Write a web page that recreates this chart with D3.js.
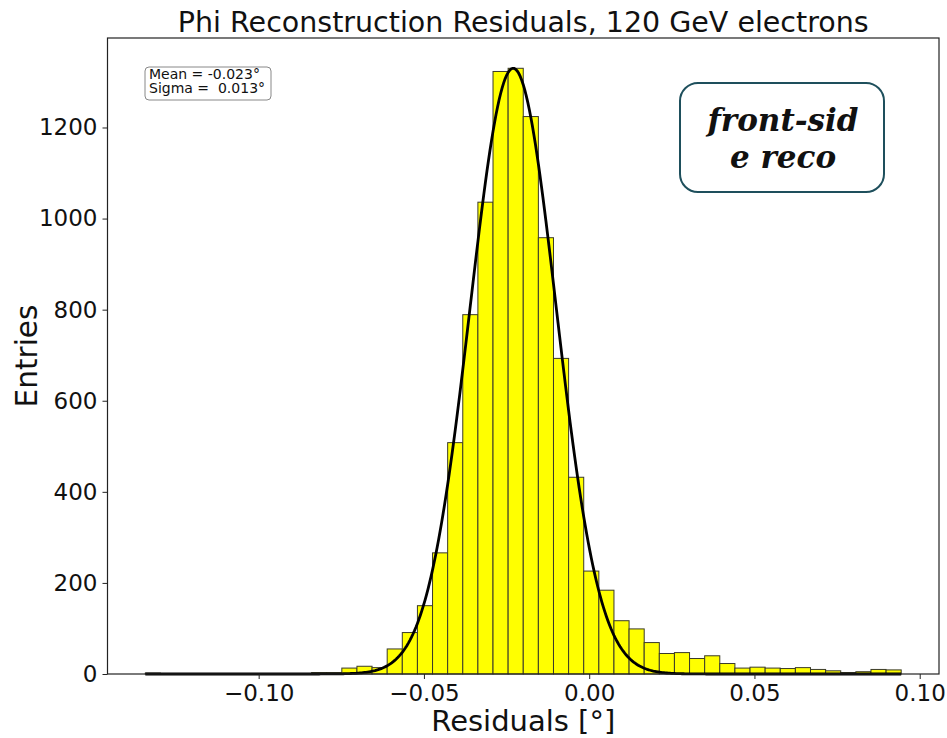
<!DOCTYPE html>
<html>
<head>
<meta charset="utf-8">
<script src="https://cdn.jsdelivr.net/npm/d3@7"></script>
<style>
  html, body { margin: 0; padding: 0; background: #fff; }
  svg { display: block; }
  text { font-family: "DejaVu Sans", sans-serif; }
</style>
</head>
<body>
<svg id="chart" width="947" height="738"></svg>
<script>
// Histogram of phi residuals (degrees): 50 equal-width bins
const binStart = -0.1343;
const binWidth = 0.004574;
const counts = [
  2, 1, 1, 0, 0, 1, 0, 1, 0, 1,
  1, 3, 3, 13, 17, 14, 55, 91, 150, 266,
  508, 789, 1036, 1323, 1330, 1224, 958, 693, 432, 226,
  184, 117, 99, 69, 45, 47, 34, 40, 23, 13,
  15, 13, 12, 14, 10, 7, 3, 5, 10, 9
];

// Gaussian fit parameters
const fitMean = -0.023;
const fitSigma = 0.013;
const fitPeak = 1330;

const xTicks = [-0.10, -0.05, 0.00, 0.05, 0.10];
const yTicks = [0, 200, 400, 600, 800, 1000, 1200];

const titleText = "Phi Reconstruction Residuals, 120 GeV electrons";
const xLabel = "Residuals [°]";
const yLabel = "Entries";
const statsLines = ["Mean = -0.023°", "Sigma =  0.013°"];
const noteLines = ["front-sid", "e reco"];

const svg = d3.select("#chart");
const plot = { left: 107.5, right: 939, top: 38, bottom: 674 };

const binEnd = binStart + binWidth * counts.length;
const pad = 0.05 * (binEnd - binStart);
const x = d3.scaleLinear().domain([binStart - pad, binEnd + pad]).range([plot.left, plot.right]);
const y = d3.scaleLinear().domain([0, d3.max(counts) * 1.05]).range([plot.bottom, plot.top]);

const bins = counts.map((c, i) => ({ x0: binStart + i * binWidth, x1: binStart + (i + 1) * binWidth, c }));

// bars
svg.append("g").selectAll("rect").data(bins.filter(b => b.c > 0)).join("rect")
  .attr("x", d => x(d.x0))
  .attr("width", d => x(d.x1) - x(d.x0))
  .attr("y", d => y(d.c))
  .attr("height", d => y(0) - y(d.c))
  .attr("fill", "#ffff00")
  .attr("stroke", "#3a3a2a")
  .attr("stroke-width", 1);

// fitted gaussian curve
const curveX = d3.range(0, 501).map(i => binStart + (binEnd - binStart) * i / 500);
const line = d3.line().x(d => x(d)).y(d => y(fitPeak * Math.exp(-0.5 * ((d - fitMean) / fitSigma) ** 2)));
svg.append("path").datum(curveX)
  .attr("d", line)
  .attr("fill", "none")
  .attr("stroke", "#000")
  .attr("stroke-width", 2.8);

// axes
const fmtX = v => (v < 0 ? "\u2212" : "") + Math.abs(v).toFixed(2);
const xAxis = d3.axisBottom(x).tickValues(xTicks).tickFormat(fmtX).tickSize(5).tickPadding(6);
const yAxis = d3.axisLeft(y).tickValues(yTicks).tickFormat(d3.format("d")).tickSize(5).tickPadding(5);

const gx = svg.append("g").attr("transform", `translate(0,${plot.bottom})`).call(xAxis);
const gy = svg.append("g").attr("transform", `translate(${plot.left},0)`).call(yAxis);
[gx, gy].forEach(g => {
  g.select(".domain").remove();
  g.selectAll(".tick line").attr("stroke", "#222").attr("stroke-width", 1);
  g.selectAll(".tick text").attr("fill", "#111").style("font-size", "23px").style("font-family", "DejaVu Sans");
});

// frame
svg.append("rect")
  .attr("x", plot.left).attr("y", plot.top)
  .attr("width", plot.right - plot.left).attr("height", plot.bottom - plot.top)
  .attr("fill", "none").attr("stroke", "#222").attr("stroke-width", 1.2);

// title and axis labels
svg.append("text").attr("x", (plot.left + plot.right) / 2).attr("y", 32)
  .attr("text-anchor", "middle").style("font-size", "28.5px").attr("fill", "#111").text(titleText);
svg.append("text").attr("x", (plot.left + plot.right) / 2).attr("y", 731)
  .attr("text-anchor", "middle").style("font-size", "29px").attr("fill", "#111").text(xLabel);
svg.append("text").attr("transform", `translate(37,${(plot.top + plot.bottom) / 2}) rotate(-90)`)
  .attr("text-anchor", "middle").style("font-size", "29.5px").attr("fill", "#111").text(yLabel);

// stats box
const sb = svg.append("g");
sb.append("rect").attr("x", 145).attr("y", 67).attr("width", 126).attr("height", 33)
  .attr("rx", 4).attr("fill", "#fff").attr("stroke", "#888").attr("stroke-width", 1);
sb.selectAll("text").data(statsLines).join("text")
  .attr("x", 149).attr("y", (d, i) => 79 + i * 14)
  .style("font-size", "14px").style("white-space", "pre").attr("xml:space", "preserve")
  .attr("fill", "#111").text(d => d);

// annotation box
const nb = svg.append("g");
nb.append("rect").attr("x", 680).attr("y", 83).attr("width", 204).attr("height", 109)
  .attr("rx", 18).attr("fill", "#fff").attr("stroke", "#1e4f5c").attr("stroke-width", 2);
nb.selectAll("text").data(noteLines).join("text")
  .attr("x", 783).attr("y", (d, i) => 131 + i * 37)
  .attr("text-anchor", "middle")
  .style("font-family", "'DejaVu Serif', 'Liberation Serif', serif")
  .style("font-weight", "bold").style("font-style", "italic").style("font-size", "31px")
  .attr("fill", "#111").text(d => d);
</script>
</body>
</html>
